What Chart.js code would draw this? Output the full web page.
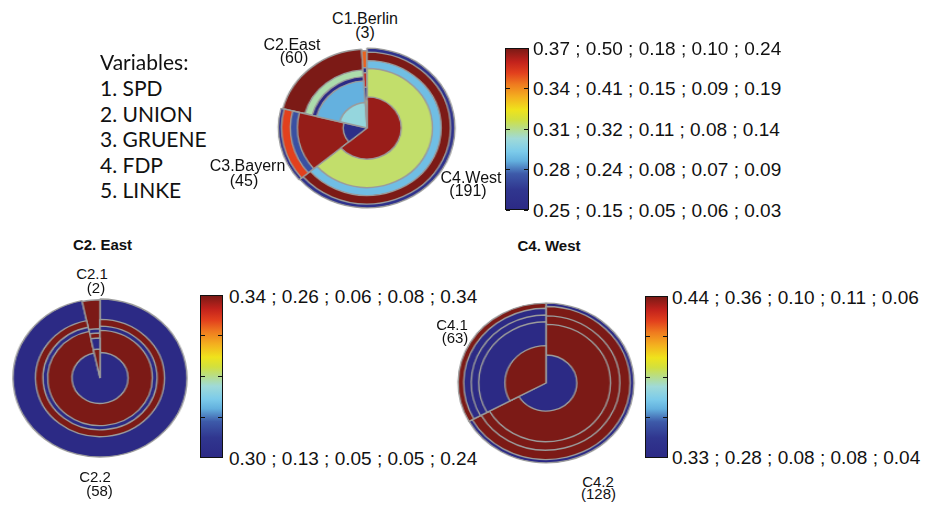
<!DOCTYPE html>
<html><head><meta charset="utf-8">
<script src="https://cdn.jsdelivr.net/npm/chart.js@4.4.1/dist/chart.umd.min.js"></script>
<style>
html,body{margin:0;padding:0;background:#fff;}
#stage{position:relative;width:935px;height:507px;overflow:hidden;font-family:"Liberation Sans",Arial,Helvetica,sans-serif;color:#111;}
.t{position:absolute;white-space:nowrap;line-height:1;}
.pie{position:absolute;transform:scaleX(1.1);transform-origin:50% 50%;}
.bar{position:absolute;border:1px solid #111;box-sizing:border-box;}
.tick{position:absolute;height:1px;width:4px;background:#111;}
</style></head>
<body><div id="stage"></div>
<script>
// ---------------- data ----------------
const variables = ['SPD', 'UNION', 'GRUENE', 'FDP', 'LINKE'];

// overview: all clusters
const mainClusters = ['C1.Berlin', 'C2.East', 'C3.Bayern', 'C4.West'];
const mainSizes    = [3, 60, 45, 191];
const mainSPD      = [0.32, 0.30, 0.255, 0.366];
const mainUNION    = [0.16, 0.256, 0.49, 0.334];
const mainGRUENE   = [0.17, 0.05, 0.075, 0.093];
const mainFDP      = [0.06, 0.079, 0.094, 0.10];
const mainLINKE    = [0.20, 0.243, 0.034, 0.047];
const mainMin      = [0.25, 0.15, 0.05, 0.06, 0.03];
const mainMax      = [0.37, 0.50, 0.18, 0.10, 0.24];
const mainTickLabels = ['0.37 ; 0.50 ; 0.18 ; 0.10 ; 0.24', '0.34 ; 0.41 ; 0.15 ; 0.09 ; 0.19',
  '0.31 ; 0.32 ; 0.11 ; 0.08 ; 0.14', '0.28 ; 0.24 ; 0.08 ; 0.07 ; 0.09', '0.25 ; 0.15 ; 0.05 ; 0.06 ; 0.03'];

// C2. East sub-clusters
const eastClusters = ['C2.1', 'C2.2'];
const eastSizes    = [2, 58];
const eastSPD      = [0.34, 0.30];
const eastUNION    = [0.13, 0.26];
const eastGRUENE   = [0.06, 0.05];
const eastFDP      = [0.05, 0.08];
const eastLINKE    = [0.34, 0.24];
const eastMin      = [0.30, 0.13, 0.05, 0.05, 0.24];
const eastMax      = [0.34, 0.26, 0.06, 0.08, 0.34];
const eastTickLabels = ['0.34 ; 0.26 ; 0.06 ; 0.08 ; 0.34', '0.30 ; 0.13 ; 0.05 ; 0.05 ; 0.24'];

// C4. West sub-clusters
const westClusters = ['C4.1', 'C4.2'];
const westSizes    = [63, 128];
const westSPD      = [0.44, 0.33];
const westUNION    = [0.28, 0.36];
const westGRUENE   = [0.08, 0.10];
const westFDP      = [0.08, 0.11];
const westLINKE    = [0.06, 0.04];
const westMin      = [0.33, 0.28, 0.08, 0.08, 0.04];
const westMax      = [0.44, 0.36, 0.10, 0.11, 0.06];
const westTickLabels = ['0.44 ; 0.36 ; 0.10 ; 0.11 ; 0.06', '0.33 ; 0.28 ; 0.08 ; 0.08 ; 0.04'];

// ---------------- colour map ----------------
const STOPS = [[0.00,'#2c2a85'],[0.12,'#30368f'],[0.22,'#3d5aa9'],[0.30,'#63b0de'],[0.36,'#7ccbea'],
  [0.44,'#9fdad8'],[0.50,'#b6dd8c'],[0.56,'#d2e03e'],[0.62,'#efe31c'],[0.70,'#f4b01f'],
  [0.78,'#ef7a1f'],[0.85,'#e2401d'],[0.92,'#c2221c'],[1.00,'#7c1a16']];
function hex2rgb(h){return [parseInt(h.substr(1,2),16),parseInt(h.substr(3,2),16),parseInt(h.substr(5,2),16)];}
function cmap(t){
  t = Math.max(0, Math.min(1, t));
  for (let i = 1; i < STOPS.length; i++) {
    if (t <= STOPS[i][0]) {
      const a = STOPS[i-1], b = STOPS[i];
      const f = (t - a[0]) / (b[0] - a[0]);
      const ca = hex2rgb(a[1]), cb = hex2rgb(b[1]);
      const c = ca.map((v, k) => Math.round(v + (cb[k] - v) * f));
      return `rgb(${c[0]},${c[1]},${c[2]})`;
    }
  }
  return STOPS[STOPS.length-1][1];
}
const gradientCSS = 'linear-gradient(to top,' + STOPS.map(s => `${s[1]} ${s[0]*100}%`).join(',') + ')';

// ---------------- layout helpers ----------------
const stage = document.getElementById('stage');
function addText(str, x, baseline, size, opts = {}) {
  const d = document.createElement('div');
  d.className = 't';
  d.textContent = str;
  const fam = opts.family || '"Liberation Sans", Arial, sans-serif';
  const asc = opts.asc || 0.8465;
  d.style.fontFamily = fam;
  d.style.fontSize = size + 'px';
  if (opts.bold) d.style.fontWeight = 'bold';
  d.style.top = (baseline - asc * size) + 'px';
  d.style.left = x + 'px';
  if (opts.center) d.style.transform = 'translateX(-50%)';
  stage.appendChild(d);
}
function addBar(left, top, w, h, tickFracs) {
  const b = document.createElement('div');
  b.className = 'bar';
  Object.assign(b.style, {left: left + 'px', top: top + 'px', width: w + 'px', height: h + 'px', background: gradientCSS});
  stage.appendChild(b);
  tickFracs.forEach(f => {
    const y = top + f * h;
    [left + 1, left + w - 5].forEach(x => {
      const tk = document.createElement('div');
      tk.className = 'tick';
      tk.style.left = x + 'px'; tk.style.top = (y - 0.5) + 'px';
      stage.appendChild(tk);
    });
  });
}
function makePie(cx, cy, sizes, vars, mins, maxs) {
  const S = 170;
  const wrap = document.createElement('div');
  wrap.className = 'pie';
  Object.assign(wrap.style, {left: (cx - S/2) + 'px', top: (cy - S/2) + 'px', width: S + 'px', height: S + 'px'});
  const cv = document.createElement('canvas');
  cv.width = S; cv.height = S;
  wrap.appendChild(cv);
  stage.appendChild(wrap);
  const n = sizes.length;
  const order = [...Array(n).keys()].reverse();     // clockwise from 12 o'clock
  const total = sizes.reduce((a, b) => a + b, 0);
  const angles = order.map(i => sizes[i] / total * 360);
  const datasets = vars.map((arr, j) => ({
    label: variables[j],
    data: order.map(i => vars.slice(0, j + 1).reduce((s, a) => s + a[i], 0)),
    backgroundColor: order.map(i => cmap((arr[i] - mins[j]) / (maxs[j] - mins[j]))),
    borderColor: '#9b9b9b',
    borderWidth: 1.4,
    angle: ctx => angles[ctx.dataIndex]
  }));
  new Chart(cv, {
    type: 'polarArea',
    data: {labels: order.map(i => i), datasets},
    options: {
      responsive: false, animation: false, events: [],
      layout: {padding: 0},
      plugins: {legend: {display: false}, tooltip: {enabled: false}},
      scales: {r: {display: false, min: 0, max: 1, startAngle: 0}}
    }
  });
}

// ---------------- overview ----------------
makePie(367, 127.5, mainSizes, [mainSPD, mainUNION, mainGRUENE, mainFDP, mainLINKE], mainMin, mainMax);
addText(mainClusters[0], 365, 25, 16, {center: true});
addText('(' + mainSizes[0] + ')', 365, 39, 16, {center: true});
addText(mainClusters[1], 292, 51, 16, {center: true});
addText('(' + mainSizes[1] + ')', 294, 64, 16, {center: true});
addText(mainClusters[2], 247.5, 172, 16, {center: true});
addText('(' + mainSizes[2] + ')', 244, 187, 16, {center: true});
addText(mainClusters[3], 471, 184, 16, {center: true});
addText('(' + mainSizes[3] + ')', 468, 197, 16, {center: true});

addBar(505, 48, 24, 162, [0, 0.25, 0.5, 0.75, 1]);
mainTickLabels.forEach((s, i) => addText(s, 533, 48 + i * 40.5 + 6.8, 19));

// variable list
const lato = {family: 'Lato, "Open Sans", sans-serif', asc: 0.887};
addText('Variables:', 100, 70, 21, lato);
variables.forEach((v, i) => addText((i + 1) + '. ' + v, 100, 95.6 + i * 25.6, 21, lato));

// ---------------- C2. East ----------------
addText('C2. East', 102.5, 250, 15, {center: true, bold: true});
makePie(100, 378, eastSizes, [eastSPD, eastUNION, eastGRUENE, eastFDP, eastLINKE], eastMin, eastMax);
addText(eastClusters[0], 92, 279, 15, {center: true});
addText('(' + eastSizes[0] + ')', 96, 293, 15, {center: true});
addText(eastClusters[1], 95, 482, 15, {center: true});
addText('(' + eastSizes[1] + ')', 99.5, 496, 15, {center: true});
addBar(200, 295, 23, 163, [0.25, 0.5, 0.75]);
addText(eastTickLabels[0], 229, 296 + 6.8, 19);
addText(eastTickLabels[1], 229, 458 + 6.8, 19);

// ---------------- C4. West ----------------
addText('C4. West', 549, 251, 15, {center: true, bold: true});
makePie(546, 383, westSizes, [westSPD, westUNION, westGRUENE, westFDP, westLINKE], westMin, westMax);
addText(westClusters[0], 452, 330, 15, {center: true});
addText('(' + westSizes[0] + ')', 455, 343, 15, {center: true});
addText(westClusters[1], 598, 487, 15, {center: true});
addText('(' + westSizes[1] + ')', 598.5, 499, 15, {center: true});
addBar(645, 296, 23, 162, [0.25, 0.5, 0.75]);
addText(westTickLabels[0], 672, 297 + 6.8, 19);
addText(westTickLabels[1], 672, 457 + 6.8, 19);
</script>
</body></html>
